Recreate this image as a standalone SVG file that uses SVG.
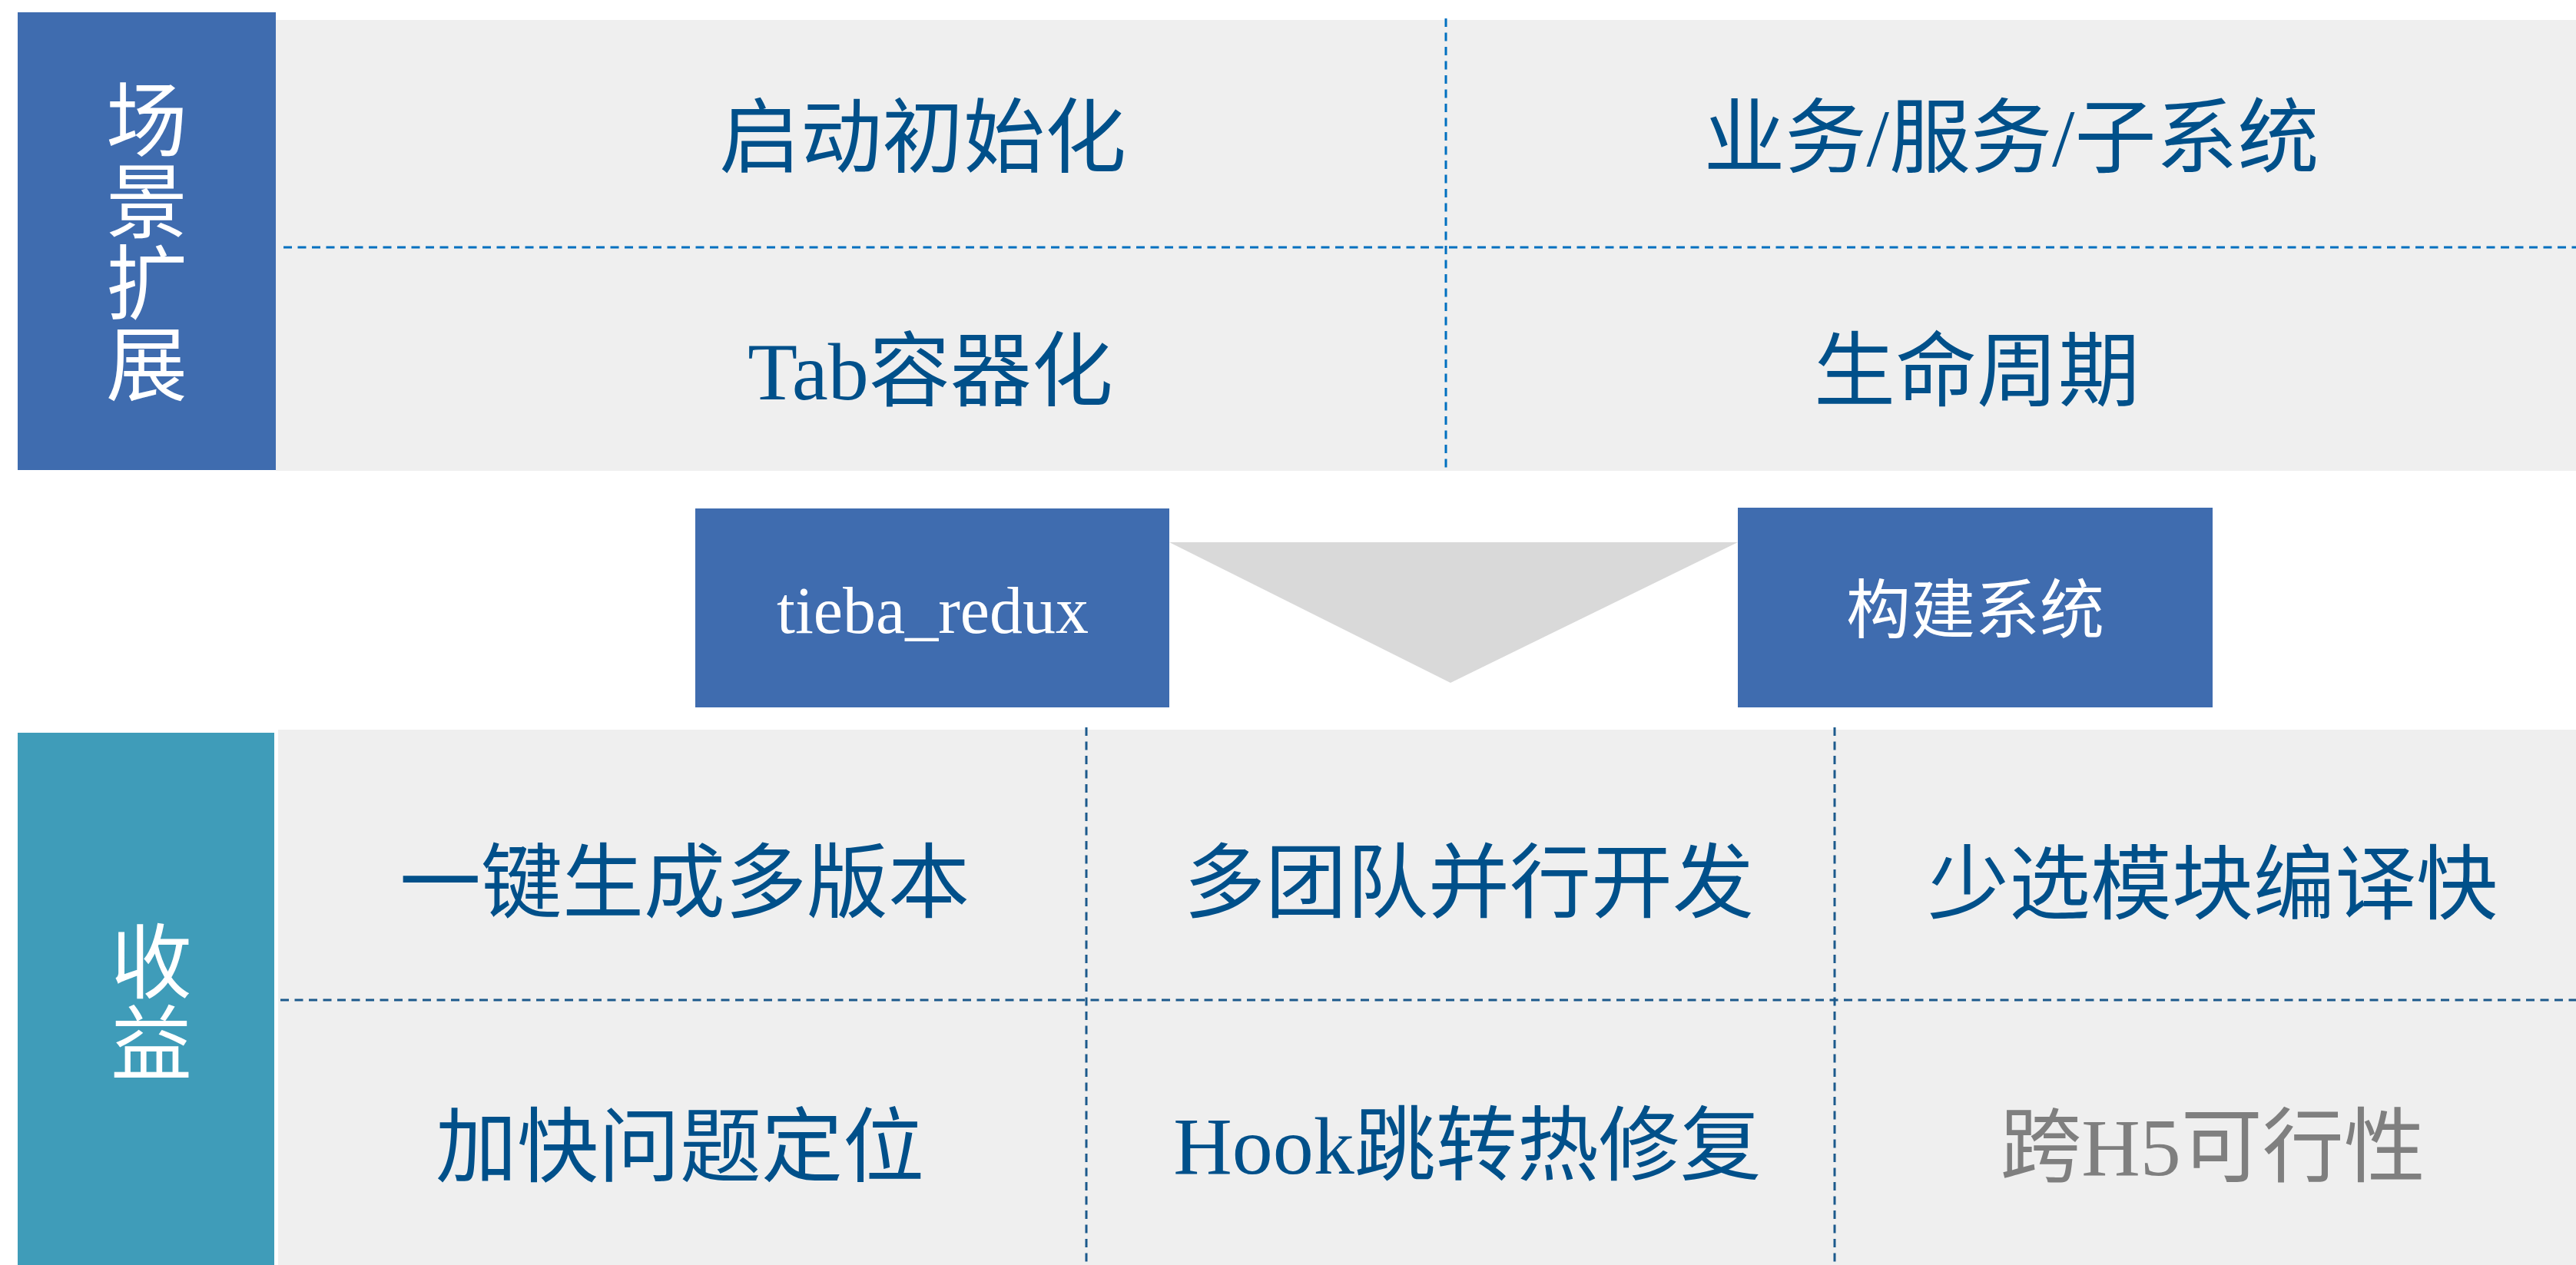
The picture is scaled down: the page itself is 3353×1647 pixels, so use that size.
<svg xmlns="http://www.w3.org/2000/svg" width="3353" height="1647" viewBox="0 0 3353 1647">
<style>
.panel{fill:#efefef}
.hdr-blue{fill:#3f6caf}
.hdr-teal{fill:#3f9cb9}
.box{fill:#3f6caf}
.t{font-family:"Liberation Serif","Noto Sans CJK SC",serif;font-size:106px;text-anchor:middle;fill:#00508a}
.v{font-family:"Noto Sans CJK SC",sans-serif;font-size:106px;fill:#ffffff;writing-mode:vertical-rl;text-anchor:start}
.tg{fill:#7f7f7f}
.tw{fill:#ffffff}
.dash-top{stroke:#0070c0;stroke-width:3;stroke-dasharray:11 7.5;fill:none}
.dash-bot{stroke:#1c5a8c;stroke-width:3;stroke-dasharray:11 7.5;fill:none}
</style>
<rect width="3353" height="1647" fill="#ffffff"/>

<g id="top-section">
  <rect class="panel" x="359" y="26" width="2994" height="587"/>
  <g id="top-header">
    <rect class="hdr-blue" x="23" y="16" width="336" height="596"/>
    <text class="v" x="191" y="102">场景扩展</text>
  </g>
</g>

<g id="bottom-section">
  <rect class="panel" x="362" y="950" width="2991" height="697"/>
  <g id="bottom-header">
    <rect class="hdr-teal" x="23" y="954" width="334" height="693"/>
    <text class="v" x="197" y="1198">收益</text>
  </g>
</g>

<g id="grid-lines">
  <line class="dash-top" x1="369" y1="322" x2="3353" y2="322"/>
  <line class="dash-top" x1="1882" y1="24" x2="1882" y2="612"/>
  <line class="dash-bot" x1="365" y1="1302" x2="3353" y2="1302"/>
  <line class="dash-bot" x1="1414" y1="947" x2="1414" y2="1647"/>
  <line class="dash-bot" x1="2388" y1="947" x2="2388" y2="1647"/>
</g>

<g id="connectors">
  <polygon points="1522,706 2262,706 1888,889" fill="#d9d9d9"/>
</g>

<g id="cell-startup"><text class="t" x="1201" y="216">启动初始化</text></g>
<g id="cell-business"><text class="t" x="2618" y="216">业务/服务/子系统</text></g>
<g id="cell-tab"><text class="t" x="1211" y="520">Tab容器化</text></g>
<g id="cell-lifecycle"><text class="t" x="2573" y="520">生命周期</text></g>

<g id="node-tieba-redux">
  <rect class="box" x="905" y="662" width="617" height="259"/>
  <text class="t tw" x="1214" y="824" style="font-size:86px">tieba_redux</text>
</g>
<g id="node-build-system">
  <rect class="box" x="2262" y="661" width="618" height="260"/>
  <text class="t tw" x="2571" y="824" style="font-size:84px">构建系统</text>
</g>

<g id="cell-multi-version"><text class="t" x="891" y="1186">一键生成多版本</text></g>
<g id="cell-multi-team"><text class="t" x="1912" y="1186">多团队并行开发</text></g>
<g id="cell-fast-compile"><text class="t" x="2880" y="1188">少选模块编译快</text></g>
<g id="cell-locate"><text class="t" x="885" y="1530">加快问题定位</text></g>
<g id="cell-hook"><text class="t" x="1910" y="1528">Hook跳转热修复</text></g>
<g id="cell-h5"><text class="t tg" x="2880" y="1530">跨H5可行性</text></g>
</svg>
